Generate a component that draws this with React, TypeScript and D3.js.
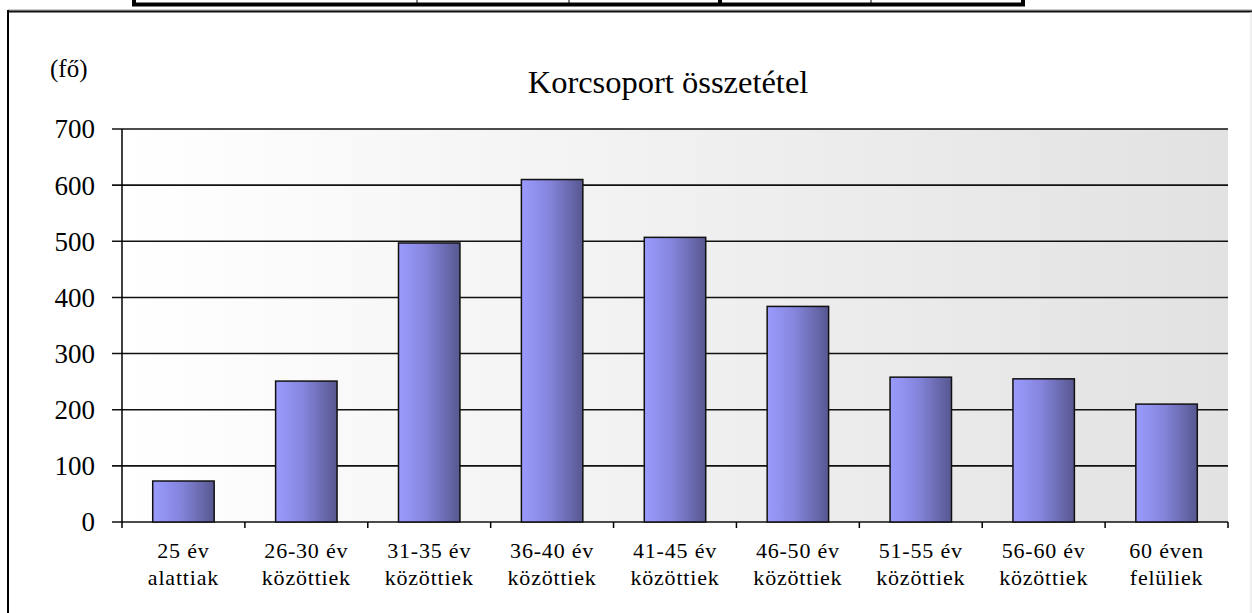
import * as d3 from "d3";

const categories: string[][] = [
  ["25 év", "alattiak"],
  ["26-30 év", "közöttiek"],
  ["31-35 év", "közöttiek"],
  ["36-40 év", "közöttiek"],
  ["41-45 év", "közöttiek"],
  ["46-50 év", "közöttiek"],
  ["51-55 év", "közöttiek"],
  ["56-60 év", "közöttiek"],
  ["60 éven", "felüliek"],
];
const headcount = [73, 251, 497, 610, 507, 384, 258, 255, 210];
const yTicks = [0, 100, 200, 300, 400, 500, 600, 700];

// bottom edge of the table cut off above the chart: cell borders (x, width)
const tableCols: [number, number][] = [
  [417, 1],
  [569, 1],
  [720, 4],
  [871, 1],
];

const W = 1252;
const H = 613;
const plot = { left: 122, right: 1228, top: 129, bottom: 522 };
const font = "Liberation Serif, Times New Roman, serif";

const App = () => {
  const x = d3
    .scaleBand<number>()
    .domain(d3.range(categories.length))
    .range([plot.left, plot.right])
    .paddingInner(0.5)
    .paddingOuter(0.25);

  const y = d3.scaleLinear().domain([0, 700]).range([plot.bottom, plot.top]);

  const step = x.step();
  const boundaries = d3.range(categories.length + 1).map((i) => plot.left + i * step);

  return (
    <svg
      width={W}
      height={H}
      style={{ position: "absolute", left: 0, top: 0, background: "#fff", fontFamily: font }}
    >
      <defs>
        <linearGradient id="bg" x1="0" x2="1" y1="0" y2="0">
          <stop offset="0%" stopColor="#ffffff" />
          <stop offset="100%" stopColor="#e2e2e2" />
        </linearGradient>
        <linearGradient id="bar" x1="0" x2="1" y1="0" y2="0">
          <stop offset="0%" stopColor="#9b9bff" />
          <stop offset="45%" stopColor="#8585dd" />
          <stop offset="100%" stopColor="#575790" />
        </linearGradient>
      </defs>

      {/* piece of the table above */}
      <rect x={134} y={-10} width={889} height={14.5} fill="none" stroke="#000" strokeWidth={4} />
      {tableCols.map(([c, w]) => (
        <line key={c} x1={c} x2={c} y1={0} y2={4} stroke="#000" strokeWidth={w} />
      ))}

      {/* outer frame */}
      <line x1={8} x2={W} y1={10} y2={10} stroke="#999" strokeWidth={1} />
      <line x1={8} x2={W} y1={11.5} y2={11.5} stroke="#111" strokeWidth={2} />
      <line x1={8} x2={8} y1={10} y2={H} stroke="#000" strokeWidth={2} />
      <line x1={1251} x2={1251} y1={12} y2={H} stroke="#ddd" strokeWidth={1} />

      <text x={50} y={77} fontSize={25} fill="#000">
        (fő)
      </text>
      <text x={668} y={93} textAnchor="middle" fontSize={32.5} fill="#000">
        Korcsoport összetétel
      </text>

      <rect
        x={plot.left}
        y={plot.top}
        width={plot.right - plot.left}
        height={plot.bottom - plot.top}
        fill="url(#bg)"
      />

      {yTicks.map((t) => (
        <g key={t}>
          <line x1={112} x2={plot.right} y1={y(t)} y2={y(t)} stroke="#111" strokeWidth={1.6} />
          <text x={95} y={y(t)} dy="0.35em" textAnchor="end" fontSize={27} fill="#000">
            {t}
          </text>
        </g>
      ))}

      {headcount.map((v, i) => (
        <rect
          key={i}
          x={x(i)}
          y={y(v)}
          width={x.bandwidth()}
          height={y(0) - y(v)}
          fill="url(#bar)"
          stroke="#111"
          strokeWidth={1.5}
        />
      ))}

      <line x1={plot.left} x2={plot.left} y1={plot.top} y2={plot.bottom} stroke="#000" strokeWidth={1.5} />
      {boundaries.map((b, i) => (
        <line key={i} x1={b} x2={b} y1={plot.bottom} y2={plot.bottom + 6} stroke="#000" strokeWidth={1.5} />
      ))}

      {categories.map((c, i) => {
        const cx = (x(i) as number) + x.bandwidth() / 2;
        return (
          <text key={i} x={cx} textAnchor="middle" fontSize={22} letterSpacing={0.8} fill="#000">
            <tspan x={cx} y={558}>
              {c[0]}
            </tspan>
            <tspan x={cx} y={585}>
              {c[1]}
            </tspan>
          </text>
        );
      })}
    </svg>
  );
};

export default App;
